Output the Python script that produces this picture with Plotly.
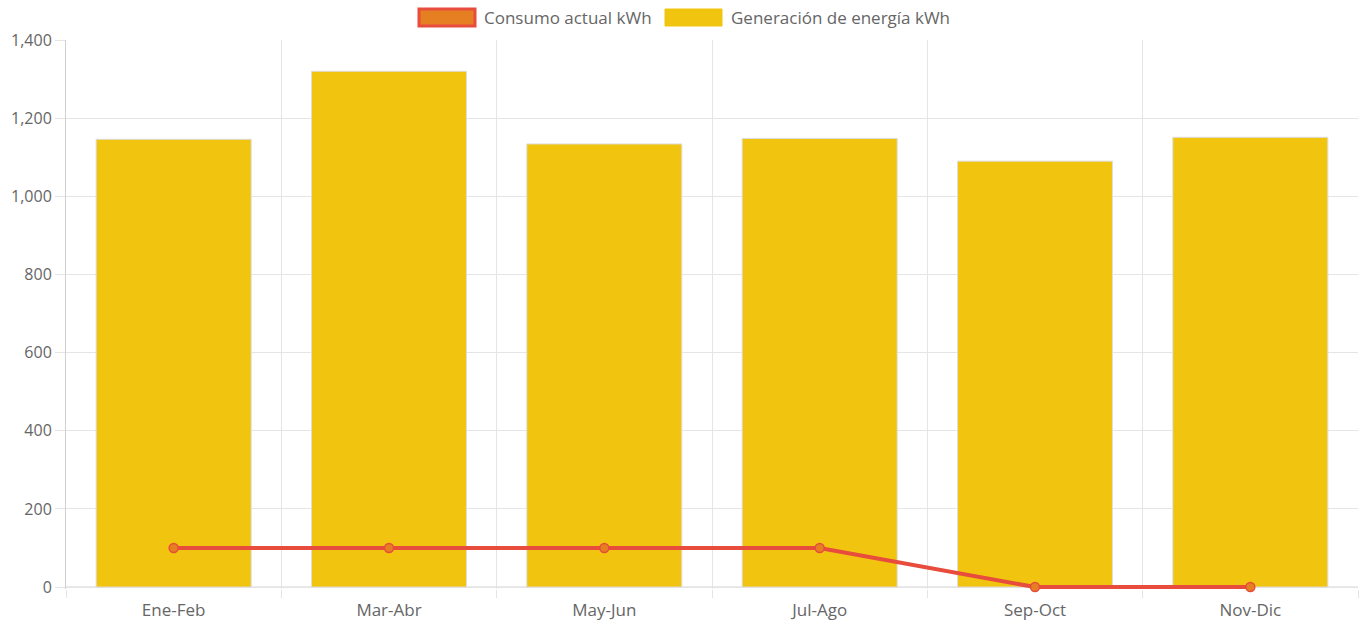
import plotly.graph_objects as go

categories = ["Ene-Feb", "Mar-Abr", "May-Jun", "Jul-Ago", "Sep-Oct", "Nov-Dic"]
consumo = [100, 100, 100, 100, 0, 0]
generacion = [1146, 1320, 1134, 1148, 1090, 1151]
y_ticks = [0, 200, 400, 600, 800, 1000, 1200, 1400]
label_consumo = "Consumo actual kWh"
label_generacion = "Generación de energía kWh"

RED = "#E74C3C"
ORANGE = "#E67E22"
YELLOW = "#F1C40F"
FONT = "Open Sans"
TXT = "#666666"
GRID = "#e5e5e5"
AXIS = "#d0d0d0"

fig = go.Figure()
fig.add_trace(go.Bar(
    x=categories, y=generacion, name=label_generacion,
    marker=dict(color=YELLOW, line=dict(color="#dddddd", width=1)),
    width=0.72, showlegend=False,
))
fig.add_trace(go.Scatter(
    x=categories, y=consumo, mode="lines+markers", name=label_consumo,
    line=dict(color=RED, width=4),
    marker=dict(size=9, color=ORANGE, line=dict(color=RED, width=1.5)),
    showlegend=False, cliponaxis=False,
))

W, H = 1363, 624
ml, mr, mt, mb = 66, 5, 40, 35
pw, ph = W - ml - mr, H - mt - mb

def px_x(x):
    return (x - ml) / pw

def px_y(y):
    return 1 - (y - mt) / ph

shapes = [
    dict(type="rect", xref="paper", yref="paper",
         x0=px_x(419), x1=px_x(475), y0=px_y(26), y1=px_y(9),
         fillcolor=ORANGE, line=dict(color=RED, width=3)),
    dict(type="rect", xref="paper", yref="paper",
         x0=px_x(665), x1=px_x(722), y0=px_y(26), y1=px_y(9),
         fillcolor=YELLOW, line=dict(color=YELLOW, width=1)),
    dict(type="line", xref="paper", yref="y", x0=0, x1=1, y0=0, y1=0,
         line=dict(color=AXIS, width=1), layer="below"),
]
annotations = [
    dict(xref="paper", yref="paper", x=px_x(482), y=px_y(17.5), xanchor="left", yanchor="middle",
         text=label_consumo, showarrow=False, font=dict(family=FONT, size=17, color=TXT)),
    dict(xref="paper", yref="paper", x=px_x(729), y=px_y(17.5), xanchor="left", yanchor="middle",
         text=label_generacion, showarrow=False, font=dict(family=FONT, size=17, color=TXT)),
]

fig.update_layout(
    width=W, height=H,
    margin=dict(l=ml, r=mr, t=mt, b=mb, autoexpand=False),
    paper_bgcolor="white", plot_bgcolor="white",
    font=dict(family=FONT, size=16, color=TXT),
    shapes=shapes, annotations=annotations,
)
fig.update_xaxes(
    type="category", tickson="boundaries", showgrid=True, gridcolor=GRID, gridwidth=1,
    ticks="outside", ticklen=8, tickcolor=GRID, showline=False,
    tickfont=dict(family=FONT, size=17, color=TXT), automargin=False, ticklabelstandoff=9,
)
fig.update_yaxes(
    range=[-5, 1400], tickvals=y_ticks, tickformat=",", showgrid=True, gridcolor=GRID, gridwidth=1,
    ticks="outside", ticklen=10, tickcolor=GRID, showline=True, linecolor=AXIS, linewidth=1,
    zeroline=False, tickfont=dict(family=FONT, size=16, color=TXT), automargin=False,
)

fig.write_html(
    "out.html",
    config={"displayModeBar": False},
    post_script="document.body.style.margin='0';document.body.style.overflow='hidden';",
)
